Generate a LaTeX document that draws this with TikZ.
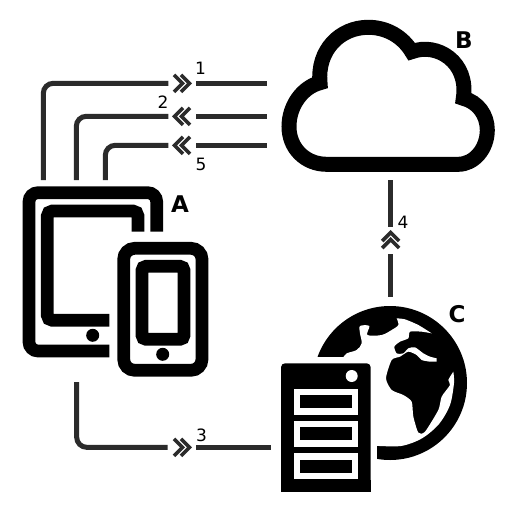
\documentclass[tikz,border=0pt]{standalone}
\usepackage{fontspec}
\setmainfont{DejaVu Sans}
\tikzset{
  conn/.style={draw=linecol,line width=5pt,rounded corners=10pt},
  icon/.style={draw=black,line width=12.7pt,line cap=butt},
  digit/.style={font=\fontsize{17}{17}\selectfont,inner sep=0pt,text=black},
  letter/.style={font=\fontsize{23}{23}\selectfont\bfseries,inner sep=0pt,text=black},
  chev/.pic={
    \draw[draw=linecol,line width=3.6pt,miter limit=10] (-8,-8.5)--(0.5,0)--(-8,8.5);
    \draw[draw=linecol,line width=3.6pt,miter limit=10] (-1,-8.5)--(7.5,0)--(-1,8.5);
  }
}
\definecolor{linecol}{HTML}{2B2B2B}
\begin{document}
\begin{tikzpicture}[x=1pt,y=-1pt]
\useasboundingbox (0,0) rectangle (512,512);
\fill[white] (0,0) rectangle (512,512);

% Cloud (B)
\draw[black,line width=15pt,miter limit=10]
  (326.7,164.3) .. controls (305,164.3) and (289,148) .. (289,126.7)
  .. controls (289,105) and (303,87) .. (320,82.7)
  .. controls (317,50) and (340,27.3) .. (368.3,27.3)
  .. controls (387,27.3) and (403,37) .. (411.7,51.7)
  .. controls (437,42) and (469,62) .. (463.3,98.3)
  .. controls (478,102) and (487.3,115) .. (487.3,130)
  .. controls (487.3,149) and (474,164.3) .. (458.3,164.3) -- cycle;

% Tablet (A)
\draw[icon,rounded corners=9pt] (109.3,351) -- (29,351) -- (29,192.7) -- (156.7,192.7) -- (156.7,231.7);
\draw[icon,rounded corners=5pt] (109.3,320.3) -- (47.3,320.3) -- (47.3,211) -- (138,211) -- (138,231.7);
\fill[black] (92.7,335.3) circle (6.5);
% Phone
\draw[icon,rounded corners=11pt] (123.7,248.3) rectangle (202,370.3);
\draw[icon,rounded corners=4pt] (142,266.3) rectangle (184,339.3);
\fill[black] (162.7,354.3) circle (6.5);

% Globe (C)
\fill[black] (390,383) circle (77);
\begin{scope}[shift={(310,300)},x=0.33333pt,y=-0.33333pt]
  \fill[white]
    plot[smooth,tension=0.4] coordinates {(260,55)(285,58)(325,75)(365,100)}
    -- plot[smooth,tension=0.4] coordinates {(365,100)(335,95)(300,95)(295,115)(270,125)(253,140)(260,160)(280,160)(295,145)(315,142)(340,160)(360,170)(380,175)}
    -- (380,185)
    -- plot[smooth,tension=0.4] coordinates {(380,185)(360,185)(335,180)(320,165)(295,155)(270,170)(245,180)(228,235)(245,270)(280,285)(305,305)(310,350)(325,398)(345,395)(385,330)(395,290)(420,255)(415,240)(430,215)}
    -- plot[smooth,tension=0.5] coordinates {(430,215)(432,249)(420,315)(387,372)(336,415)(273,438)(190,437)}
    -- (190,172) -- (100,172)
    -- plot[smooth,tension=0.5] coordinates {(100,172)(110,160)(140,150)(155,130)(150,100)(150,78)(178,78)(172,105)(215,105)(245,90)(265,75)(260,55)}
    -- cycle;
\end{scope}
% margin around the server
\fill[white] (270,357) rectangle (377.3,500);
% Server
\fill[black,rounded corners=4pt] (281,491.7) -- (281,363.3) -- (370.7,363.3) -- (370.7,491.7) -- cycle;
\fill[black] (281,480) rectangle (370.7,491.7);
\fill[white] (351.7,376) circle (6);
\foreach \ya/\yb/\yc/\yd in {389/395.3/408.3/415, 421/427.3/440.3/446.7, 453/459.7/472.7/479}{
  \fill[white] (293.7,\ya) rectangle (358.3,\yd);
  \fill[black] (300,\yb) rectangle (352,\yc);
}

% Connector end points
\coordinate (a1) at (43.3,180);   \coordinate (h1) at (168.3,83.3);
\coordinate (b1) at (266.7,83.3); \coordinate (m1) at (196,83.3);
\coordinate (a2) at (76.3,180);   \coordinate (h2) at (168.3,116.3);
\coordinate (b2) at (266.7,116.3);\coordinate (m2) at (196,116.3);
\coordinate (a5) at (105.3,180);  \coordinate (h5) at (168.3,145.3);
\coordinate (b5) at (266.7,145.3);\coordinate (m5) at (196,145.3);
\coordinate (a3) at (76.7,382);   \coordinate (h3) at (167.7,447.3);
\coordinate (c3) at (270.7,447.3);\coordinate (m3) at (196,447.3);
\coordinate (b4) at (390.7,180);  \coordinate (v4a) at (390.7,226.7);
\coordinate (c4) at (390.7,296.7);\coordinate (v4b) at (390.7,254);

\draw[conn] (a1) |- (h1);  \draw[conn] (m1) -- (b1);
\draw[conn] (a2) |- (h2);  \draw[conn] (m2) -- (b2);
\draw[conn] (a5) |- (h5);  \draw[conn] (m5) -- (b5);
\draw[conn] (a3) |- (h3);  \draw[conn] (m3) -- (c3);
\draw[conn] (b4) -- (v4a); \draw[conn] (v4b) -- (c4);

\pic at (182,83.3) {chev};
\pic[rotate=180] at (182,116.3) {chev};
\pic[rotate=180] at (182,145.3) {chev};
\pic at (182,447.3) {chev};
\pic[rotate=90] at (390.7,240) {chev};

% Labels
\node[digit] (n1) at (200.5,68) {1};
\node[digit] (n2) at (163,102) {2};
\node[digit] (n5) at (201,164) {5};
\node[digit] (n4) at (403,222.5) {4};
\node[digit] (n3) at (201.5,435) {3};
\node[letter] (la) at (180,204.5) {A};
\node[letter] (lb) at (464,40.5) {B};
\node[letter] (lc) at (457,314.5) {C};
\end{tikzpicture}
\end{document}
